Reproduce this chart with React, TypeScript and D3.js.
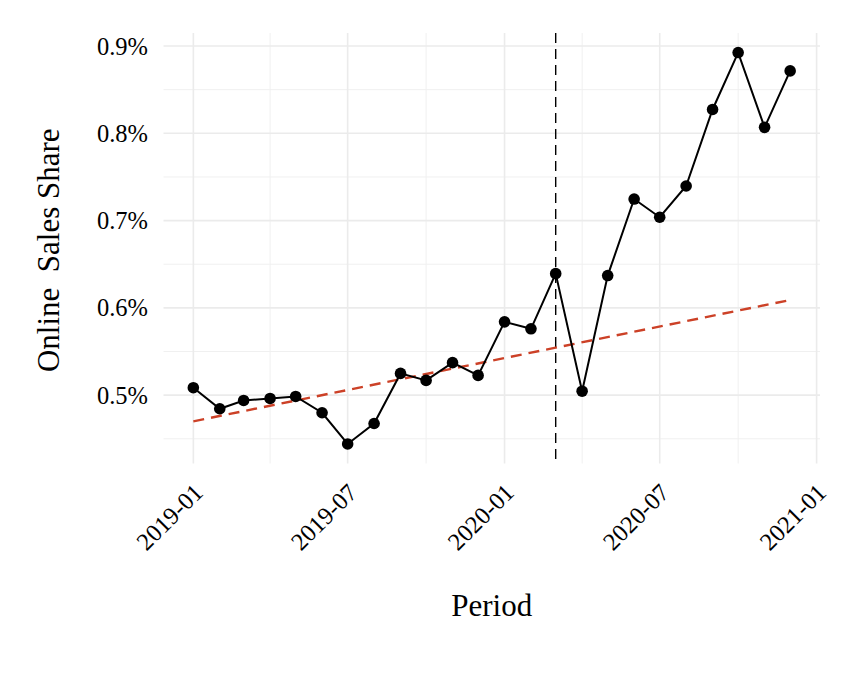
import React from "react";
import * as d3 from "d3";

const months: string[] = [
  "2019-01", "2019-02", "2019-03", "2019-04", "2019-05", "2019-06",
  "2019-07", "2019-08", "2019-09", "2019-10", "2019-11", "2019-12",
  "2020-01", "2020-02", "2020-03", "2020-04", "2020-05", "2020-06",
  "2020-07", "2020-08", "2020-09", "2020-10", "2020-11", "2020-12",
];
const shareValues: number[] = [
  0.5085, 0.4844, 0.4939, 0.4962, 0.4985, 0.4798,
  0.4441, 0.4675, 0.5249, 0.5169, 0.5372, 0.5226,
  0.5840, 0.5760, 0.6392, 0.5045, 0.6370, 0.7247,
  0.7038, 0.7396, 0.8273, 0.8925, 0.8068, 0.8715,
];
const trendStart = 0.470;
const trendEnd = 0.609;
const eventMonth = "2020-03";
const xTickLabels: string[] = ["2019-01", "2019-07", "2020-01", "2020-07", "2021-01"];
const xMinorTicks: string[] = ["2019-04", "2019-10", "2020-04", "2020-10"];
const yTicks: number[] = [0.5, 0.6, 0.7, 0.8, 0.9];
const yMinorTicks: number[] = [0.45, 0.55, 0.65, 0.75, 0.85];

const W = 848;
const H = 682;
const panel = { left: 163.5, right: 820, top: 33, bottom: 463.5 };
const parse = (s: string) => new Date(Date.UTC(+s.slice(0, 4), +s.slice(5, 7) - 1, 1));
const FONT = "'Liberation Serif', 'Times New Roman', serif";

export default function App() {
  const dates = months.map(parse);
  const t0 = dates[0].getTime();
  const t1 = dates[dates.length - 1].getTime();
  const padT = (t1 - t0) * 0.05;
  const x = d3.scaleUtc().domain([new Date(t0 - padT), new Date(t1 + padT)]).range([panel.left, panel.right]);

  const allV = [...shareValues, trendStart, trendEnd];
  const vmin = d3.min(allV)!;
  const vmax = d3.max(allV)!;
  const padV = (vmax - vmin) * 0.05;
  const y = d3.scaleLinear().domain([vmin - padV, vmax + padV]).range([panel.bottom, panel.top]);

  const data = dates.map((d, i) => ({ d, v: shareValues[i] }));
  const line = d3.line<{ d: Date; v: number }>().x((p) => x(p.d)).y((p) => y(p.v));
  const trend = [
    { d: dates[0], v: trendStart },
    { d: dates[dates.length - 1], v: trendEnd },
  ];
  const fmt = d3.format(".1f");

  return (
    <svg width={W} height={H} style={{ position: "absolute", left: 0, top: 0, background: "#fff" }} fontFamily={FONT}>
      <rect width={W} height={H} fill="#fff" />
      {yMinorTicks.map((t) => (
        <line key={"ym" + t} x1={panel.left} x2={panel.right} y1={y(t)} y2={y(t)} stroke="#f0f0f0" strokeWidth={1} />
      ))}
      {xMinorTicks.map((t) => (
        <line key={"xm" + t} x1={x(parse(t))} x2={x(parse(t))} y1={panel.top} y2={panel.bottom} stroke="#f0f0f0" strokeWidth={1} />
      ))}
      {yTicks.map((t) => (
        <line key={"y" + t} x1={panel.left} x2={panel.right} y1={y(t)} y2={y(t)} stroke="#ebebeb" strokeWidth={1.6} />
      ))}
      {xTickLabels.map((t) => (
        <line key={"x" + t} x1={x(parse(t))} x2={x(parse(t))} y1={panel.top} y2={panel.bottom} stroke="#ebebeb" strokeWidth={1.6} />
      ))}

      <line
        x1={x(parse(eventMonth))}
        x2={x(parse(eventMonth))}
        y1={panel.top}
        y2={panel.bottom}
        stroke="#000"
        strokeWidth={1.4}
        strokeDasharray="10,6"
      />
      <path d={line(trend)!} fill="none" stroke="#cc4127" strokeWidth={2.4} strokeDasharray="11,7" />
      <path d={line(data)!} fill="none" stroke="#000" strokeWidth={2} />
      {data.map((p, i) => (
        <circle key={i} cx={x(p.d)} cy={y(p.v)} r={5.8} fill="#000" />
      ))}

      {yTicks.map((t) => (
        <text key={"yl" + t} x={148} y={y(t)} dy="0.35em" textAnchor="end" fontSize={24.5} fill="#000">
          {fmt(t) + "%"}
        </text>
      ))}
      {xTickLabels.map((t) => (
        <text
          key={"xl" + t}
          transform={`translate(${x(parse(t)) + 11},${494}) rotate(-45)`}
          textAnchor="end"
          fontSize={24.5}
          fill="#000"
        >
          {t}
        </text>
      ))}
      <text x={(panel.left + panel.right) / 2} y={616} textAnchor="middle" fontSize={31} fill="#000">
        Period
      </text>
      <text
        transform={`translate(59,${(panel.top + panel.bottom) / 2 + 2}) rotate(-90)`}
        textAnchor="middle"
        fontSize={31}
        fill="#000"
        style={{ whiteSpace: "pre" }}
      >
        {"Online  Sales Share"}
      </text>
    </svg>
  );
}
